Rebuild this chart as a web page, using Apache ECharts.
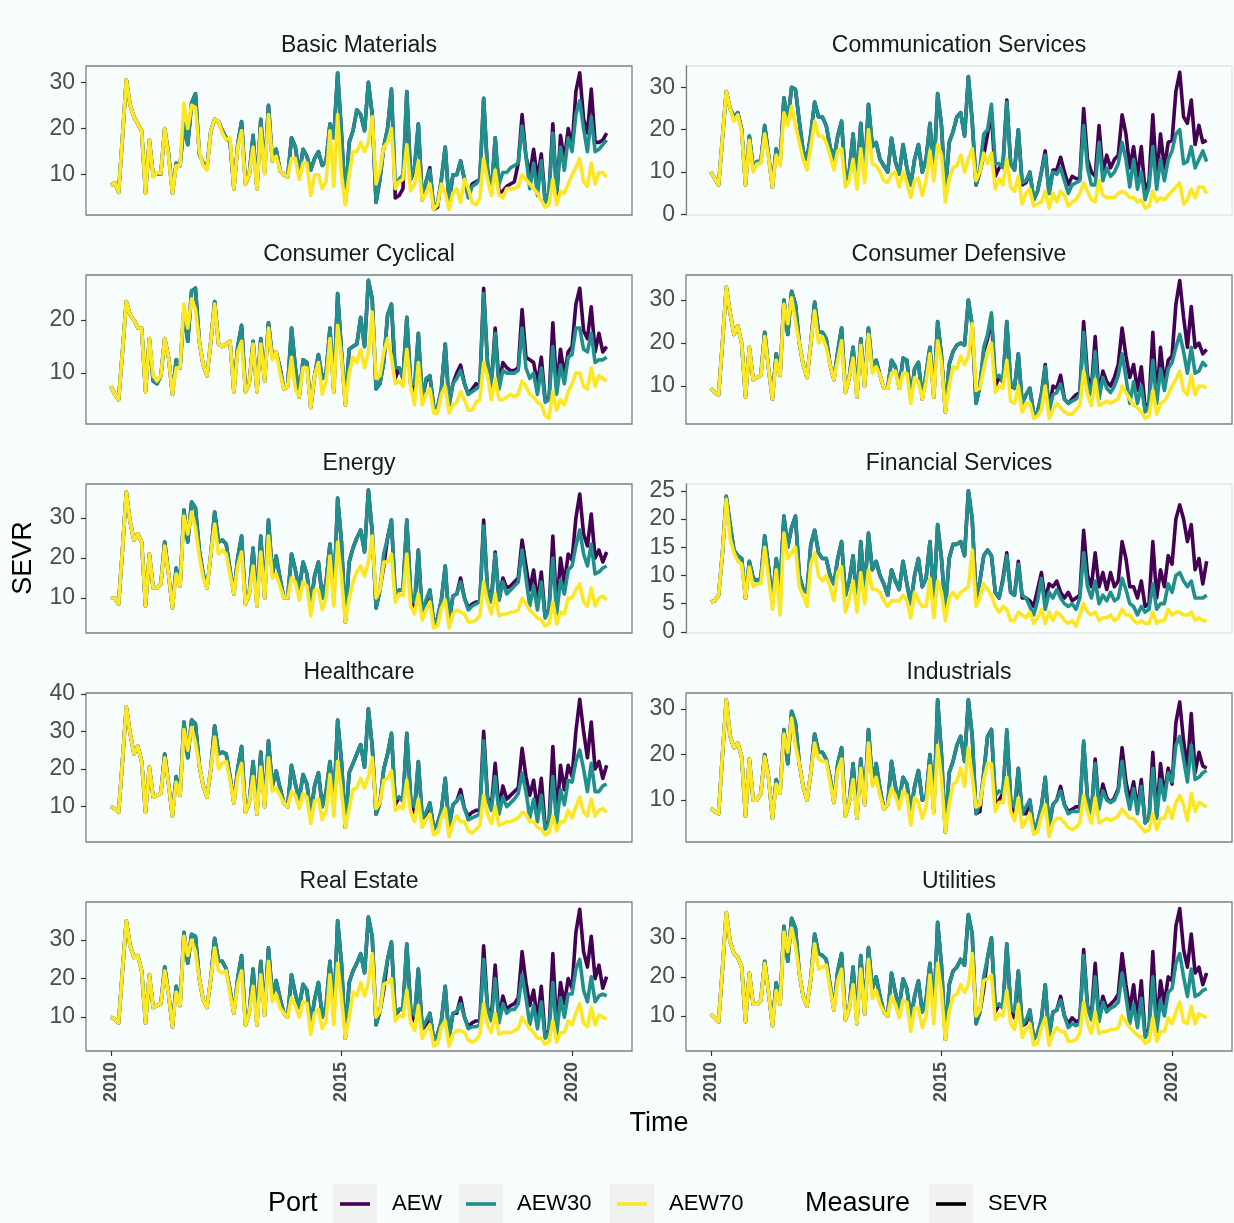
<!DOCTYPE html>
<html>
<head>
<meta charset="utf-8">
<title>SEVR by sector</title>
<script src="https://cdn.jsdelivr.net/npm/echarts@6/dist/echarts.min.js"></script>
<style>
  html, body { margin: 0; padding: 0; background: #F8FDFD; }
  #chart { width: 1234px; height: 1223px; }
</style>
</head>
<body>
<div id="chart"></div>
<script>
// Monthly SEVR per sector, January 2010 onwards, for the three portfolios.
const sectors = ['Basic Materials', 'Communication Services', 'Consumer Cyclical', 'Consumer Defensive',
  'Energy', 'Financial Services', 'Healthcare', 'Industrials', 'Real Estate', 'Utilities'];
const ports = ['AEW', 'AEW30', 'AEW70'];
const xTickYears = [2010, 2015, 2020];

// ---- Basic Materials ----
const basicMaterialsAEW = [
  7.7, 8.3, 6.2, 18, 30.5, 25, 22.5, 21, 19.5, 6, 17.5, 9.8,
  10.3, 10.2, 20, 14.5, 6, 12.5, 12, 21, 16.5, 25.5, 27.5, 14.5,
  12.5, 11.5, 19.5, 22, 21.5, 19.5, 18, 17, 7, 16.5, 21.5, 8,
  10, 18.5, 7, 22, 10.5, 25, 13, 15.5, 11, 10, 9.5, 18,
  16, 10, 15.5, 14, 11, 13.5, 15, 12, 13, 21, 18, 32,
  19, 4, 17, 19.5, 24, 23, 19.5, 30, 23, 4, 9, 16,
  20, 28.5, 5, 5.5, 7, 28, 9, 11, 21, 4.5, 8.5, 11.5,
  2.5, 3, 9, 16, 4, 10, 10, 13, 9, 5.5, 8, 8.5,
  9, 26.5, 11, 6, 18, 6, 6.5, 7.5, 8, 8.5, 12.5, 23,
  14, 10, 15.5, 9, 14.5, 4.5, 6, 21, 5, 18.5, 13, 20,
  16, 28, 32, 22, 19, 28.5, 17, 17, 17.5, 19];
const basicMaterialsAEW30 = [
  7.7, 8.3, 6.2, 18, 30.5, 25, 22.5, 21, 19.5, 6, 17.5, 9.8,
  10.3, 10.2, 20, 14.5, 6, 12.5, 12, 21, 16.5, 25.5, 27.5, 14.5,
  12.5, 11.5, 19.5, 22, 21.5, 19.5, 18, 17, 7, 16.5, 21.5, 8,
  10, 18.5, 7, 22, 10.5, 25, 13, 15.5, 11, 10, 9.5, 18,
  16, 10, 15.5, 14, 11, 13.5, 15, 12, 13, 21, 18, 32,
  19, 4, 17, 19.5, 24, 23, 19.5, 30, 23, 4, 9, 16,
  20, 28.5, 8, 9, 10, 28, 9, 12, 21, 5, 8.5, 11,
  3, 4, 9, 16, 4, 10, 10, 13, 9, 5, 7.5, 8,
  9, 26.5, 11, 6, 18, 8, 10.5, 10.5, 11.5, 12, 12.5, 20.5,
  14, 7, 12.5, 5.5, 13, 4, 6, 19, 6.5, 16, 11, 18,
  15, 23, 26, 20, 15, 22.5, 15, 15.5, 16.5, 17.5];
const basicMaterialsAEW70 = [
  7.7, 8.3, 6.2, 18, 30.5, 25, 22.5, 21, 19.5, 6, 17.5, 9.5,
  10.5, 10.3, 20, 14, 6, 12, 12, 25.5, 20, 25, 24.5, 15,
  12, 11, 19.5, 22, 21.5, 19, 17.5, 18, 7, 16, 19.5, 8,
  10, 16, 7, 20, 10, 23, 13, 14, 11, 10, 9.5, 13.5,
  13.5, 9, 12.5, 12.5, 5.5, 10, 10, 7, 8.5, 19.5, 7.5, 23,
  10, 3.5, 10, 15, 15, 17, 15, 17, 22.5, 8, 11, 16,
  17, 20, 7, 8.5, 9, 16.5, 6.5, 8, 13, 4.5, 6, 8,
  2.5, 3.5, 8, 6, 2.5, 6, 7, 4, 9, 7, 4, 3.5,
  5, 13.5, 9, 5.5, 11, 5.5, 5, 7, 7, 7, 7.5, 10,
  9, 8, 7, 6, 4.5, 3, 3.5, 9, 3.5, 6.5, 6, 8,
  10, 11.5, 13.5, 8.5, 7.5, 12.5, 8, 10.5, 10.5, 9.5];

// ---- Communication Services ----
const communicationAEW = [
  10, 8.5, 7, 18, 29, 25, 23, 24, 20, 7, 18.5, 11,
  12.5, 12.5, 21, 14, 6.5, 15.5, 12, 27.5, 22, 30, 29.5, 22,
  15, 13, 19, 26.5, 23, 23, 21, 16, 13, 18.5, 22, 8,
  10, 19, 8, 21.5, 9, 26, 16, 17, 13, 11.5, 10, 18,
  12.5, 9.5, 16.5, 11, 7, 13, 16.5, 10, 13, 21.5, 10, 28.5,
  21, 5, 17, 19.5, 23, 24, 18.5, 32.5, 22, 7, 10, 14,
  19, 24, 9, 11, 12, 27, 12, 10.5, 20, 7, 7.5, 10,
  3.5, 5.5, 10, 15, 5, 10.5, 10.5, 13.5, 10, 7, 9, 8.5,
  8.5, 25, 13, 10, 9, 21, 10, 14, 11, 13, 14, 23.5,
  19, 11, 16, 9, 16, 5, 8, 23.5, 8.5, 19, 11, 17,
  17.5, 29, 33.5, 23, 21.5, 27, 16.5, 21, 17, 17.5];
const communicationAEW30 = [
  10, 8.5, 7, 18, 29, 25, 23, 24, 20, 7, 18.5, 11,
  12.5, 12.5, 21, 14, 6.5, 15.5, 12, 27.5, 22, 30, 29.5, 22,
  15, 13, 19, 26.5, 23, 23, 21, 16, 13, 18.5, 22, 8,
  10, 19, 8, 21.5, 9, 26, 16, 17, 13, 11.5, 10, 18,
  12.5, 9.5, 16.5, 11, 7, 13, 16.5, 10, 13, 21.5, 10, 28.5,
  21, 5, 17, 19.5, 23, 24, 18.5, 32.5, 22, 7, 11, 19,
  20, 26, 12, 12, 11, 26.5, 12, 10.5, 20, 7.5, 8, 10,
  3.5, 5.5, 10, 14, 5, 10, 9.5, 11, 8, 5, 7, 7.5,
  8, 21, 11, 7, 7, 17, 8, 11, 9, 10, 12, 17,
  13, 6.5, 13, 6, 10, 3.5, 6.5, 16, 6, 13, 8, 13,
  15, 19, 20, 12, 12.5, 16, 11, 13, 15, 12.5];
const communicationAEW70 = [
  10, 8.5, 7, 18, 29, 25, 22, 23.5, 19.5, 7, 17.5, 10,
  12, 12, 19, 13.5, 6.5, 14, 11.5, 24, 21, 25.5, 21, 17,
  13, 10.5, 16, 22, 18.5, 18.5, 17, 14, 10.5, 15, 15.5, 6.5,
  8, 13, 6, 15.5, 7.5, 20, 12, 11.5, 10, 8, 7.5, 9.5,
  10, 6.5, 10, 7.5, 4, 8, 8.5, 4.5, 8, 15, 8, 16.5,
  14, 3, 8.5, 11, 11.5, 14, 10, 13, 15.5, 8, 10, 14.5,
  12, 14.5, 6, 8.5, 7, 13, 6.5, 5.5, 9, 2.5, 5, 6,
  2, 2.5, 3, 5.5, 1.5, 5, 3, 5.5, 4.5, 2, 3, 3.5,
  5, 7.5, 5.5, 3.5, 3, 8, 4.5, 4, 4, 4, 5, 5.5,
  5, 4, 4, 3, 3.5, 1.5, 2, 5.5, 3, 4, 3.5, 4.5,
  5.5, 6.5, 7.5, 2.5, 3.5, 6, 4, 6.5, 6.5, 5];

// ---- Consumer Cyclical ----
const cyclicalAEW = [
  7.5, 6, 5, 14, 23.5, 21, 20, 18.5, 18.5, 6.5, 16.5, 8.5,
  8, 9.5, 16.5, 13, 6, 12.5, 11, 22, 16, 25.5, 26, 16,
  11.5, 9.5, 16, 23.5, 15.5, 15, 15.5, 16, 6.5, 15, 19, 6.5,
  8, 16, 6.5, 16.5, 8.5, 19.5, 13, 14, 11, 7, 7.5, 18.5,
  11, 5.5, 12.5, 12, 3.5, 9.5, 13.5, 9, 10, 18.5, 6.5, 25,
  14, 4, 14.5, 15, 15.5, 20.5, 15, 27.5, 24, 7, 8, 12,
  21, 23, 9, 11, 9, 20.5, 8, 6, 17.5, 5, 8.5, 9.5,
  3.5, 3.5, 7, 15.5, 4, 8, 10, 11.5, 8, 6, 7, 8,
  7.5, 26, 12, 8, 18.5, 8, 12, 11, 10.5, 10.5, 11, 22,
  13, 12.5, 12, 8, 13, 5, 5, 19.5, 7, 14.5, 9.5, 14,
  15, 23, 26, 18, 16.5, 22.5, 14, 17.5, 14, 15];
const cyclicalAEW30 = [
  7.5, 6, 5, 14, 23.5, 21, 20, 18.5, 18.5, 6.5, 16.5, 8.5,
  8, 9.5, 16.5, 13, 6, 12.5, 11, 22, 16, 25.5, 26, 16,
  11.5, 9.5, 16, 23.5, 15.5, 15, 15.5, 16, 6.5, 15, 19, 6.5,
  8, 16, 6.5, 16.5, 8.5, 19.5, 13, 14, 11, 7, 7.5, 18.5,
  11, 5.5, 12.5, 12, 3.5, 9.5, 13.5, 9, 10, 18.5, 6.5, 25,
  14, 4, 14.5, 15, 15.5, 20.5, 15, 27.5, 24, 7, 8, 12,
  21, 23, 11, 11, 9, 20.5, 8, 8, 17.5, 5, 9, 9.5,
  3.5, 3.5, 7, 15.5, 4, 8, 9, 10.5, 8, 6, 6.5, 7,
  7.5, 25, 12, 7.5, 17.5, 7, 10.5, 10, 10, 10, 10.5, 18.5,
  11, 9, 10, 6, 11, 4.5, 5, 15, 6, 11.5, 8, 13,
  13.5, 18.5, 18.5, 14.5, 14, 17.5, 12, 12.5, 12.5, 13];
const cyclicalAEW70 = [
  7.5, 6, 5, 14, 23.5, 21, 20, 18.5, 18.5, 6.5, 16.5, 9.5,
  8.5, 9.5, 16.5, 13, 6, 11, 11, 23, 18.5, 24, 22, 16,
  11.5, 9.5, 16, 23, 15.5, 15, 15.5, 16, 6.5, 14, 16, 6.5,
  8, 15.5, 6.5, 15.5, 8.5, 18.5, 12.5, 14, 10, 7, 7.5, 13,
  7, 5.5, 11, 11, 3.5, 9.5, 12, 6, 8.5, 16.5, 6.5, 19,
  13, 4, 10, 13, 12, 14.5, 11, 14, 21.5, 9, 9.5, 14,
  16.5, 13, 8, 8.5, 7.5, 14.5, 7.5, 4, 12, 4, 6, 7,
  2.5, 2.5, 6, 7.5, 2.5, 4, 4.5, 6.5, 5, 3, 3, 4.5,
  5, 12, 9.5, 5, 9, 5, 5, 5.5, 6, 5.5, 6, 8.5,
  7.5, 6, 5.5, 4.5, 4, 2, 1.5, 6.5, 3, 5, 4, 6.5,
  8, 10, 10, 7.5, 7, 11, 7.5, 9.5, 9, 8.5];

// ---- Consumer Defensive ----
const defensiveAEW = [
  9.5, 8.5, 8, 20, 33, 27, 22, 24, 20, 7.5, 19, 11.5,
  12, 12.5, 22.5, 14, 7, 17.5, 12.5, 30, 22, 32, 29, 20,
  15, 12, 20, 29.5, 22.5, 22.5, 21, 15, 11.5, 18, 23.5, 8.5,
  12, 19, 7.5, 21, 10, 23.5, 14, 16, 12.5, 9.5, 9.5, 16,
  14.5, 9.5, 16.5, 16, 7, 14, 15.5, 7, 13, 19, 7.5, 25,
  17, 4, 15, 18, 19.5, 20, 19.5, 30, 24, 6, 10, 18,
  21, 26, 10, 12, 11, 25, 10, 9.5, 17.5, 6, 8, 9.5,
  3.5, 4, 8, 15, 4, 10, 9.5, 12.5, 7, 6, 7, 8,
  8.5, 25, 12.5, 9, 21.5, 8, 13.5, 11, 10, 12, 15, 23.5,
  17, 12, 15, 9, 14.5, 5, 6, 22.5, 7, 19, 10.5, 16,
  17, 29, 34.5, 26, 19, 28.5, 19, 20, 17.5, 18.5];
const defensiveAEW30 = [
  9.5, 8.5, 8, 20, 33, 27, 22, 24, 20, 7.5, 19, 11.5,
  12, 12.5, 22.5, 14, 7, 17.5, 12.5, 30, 22, 32, 29, 20,
  15, 12, 20, 29.5, 22.5, 22.5, 21, 15, 11.5, 18, 23.5, 8.5,
  12, 19, 7.5, 21, 10, 23.5, 14, 16, 12.5, 9.5, 9.5, 16,
  14.5, 9.5, 16.5, 16, 7, 14, 15.5, 7, 13, 19, 7.5, 25,
  17, 4, 15, 18, 19.5, 20, 19.5, 30, 24, 6, 10, 19,
  22, 27, 12, 12.5, 11, 25, 11, 9.5, 17.5, 6, 8, 9.5,
  3.5, 4, 8, 14.5, 4, 8, 8.5, 10.5, 7, 6, 6.5, 7,
  8, 22.5, 11, 8, 18, 7, 12, 9.5, 8.5, 10, 12.5, 17.5,
  12, 6, 11, 6, 10, 4, 5.5, 16, 6, 14, 9, 14,
  15.5, 19, 22, 18, 13, 19, 13, 13.5, 15.5, 14.5];
const defensiveAEW70 = [
  9.5, 8.5, 8, 20, 33, 27, 22, 24, 20, 7.5, 19, 11.5,
  12, 12.5, 21.5, 14, 7, 16, 12.5, 29, 24.5, 30.5, 25, 20,
  15, 12, 20, 27.5, 20, 21.5, 19, 15, 11.5, 16, 20.5, 8.5,
  12, 16.5, 7.5, 19.5, 10, 22, 13, 14.5, 12.5, 9.5, 9.5, 13,
  13.5, 9.5, 13, 13, 6, 12, 11, 7, 11, 17.5, 7.5, 20.5,
  15.5, 4, 10, 14.5, 14, 17, 15, 17, 24.5, 9, 9.5, 14,
  18, 20, 8.5, 10, 9.5, 16, 6.5, 6, 10, 4, 6, 6,
  2.5, 3, 4.5, 10, 2.5, 4.5, 6, 5, 4, 3.5, 3.5, 4.5,
  5.5, 13.5, 8, 5.5, 11.5, 5.5, 6, 6.5, 6, 6.5, 7, 10,
  8.5, 7, 5.5, 5, 4, 2.5, 3, 9, 3.5, 6, 6.5, 8,
  10, 11.5, 13.5, 9, 8, 12.5, 8, 10, 10, 9.5];

// ---- Energy ----
const energyAEW = [
  10, 10, 8.5, 22, 36.5, 29, 24.5, 26, 24, 8, 21, 12.5,
  12.5, 13.5, 24, 16, 7.5, 17.5, 13, 32, 24, 34, 32.5, 22,
  16, 12.5, 21, 31.5, 24, 24.5, 23.5, 17, 11, 20, 25.5, 8.5,
  11, 22.5, 8, 25.5, 10, 29.5, 16, 20.5, 15, 10, 10, 21,
  17, 12, 19, 16, 8, 15.5, 19, 10, 14, 23.5, 10, 35,
  24, 4, 19, 22.5, 25, 27, 21.5, 37, 26.5, 7.5, 12, 18,
  25, 29.5, 10, 12, 12, 29.5, 11, 7, 22, 6, 8, 12,
  3.5, 5, 9.5, 18, 4, 10.5, 11, 15, 10, 7.5, 8.5, 9,
  9, 29.5, 12, 10, 21.5, 9.5, 15, 12.5, 13, 14, 15, 24.5,
  18, 12, 17, 9, 16.5, 5.5, 7, 25.5, 7, 20, 13.5, 21,
  19.5, 30, 36, 26, 23, 31, 20, 22, 19, 21.5];
const energyAEW30 = [
  10, 10, 8.5, 22, 36.5, 29, 24.5, 26, 24, 8, 21, 12.5,
  12.5, 13.5, 24, 16, 7.5, 17.5, 13, 32, 24, 34, 32.5, 22,
  16, 12.5, 21, 31.5, 24, 24.5, 23.5, 17, 11, 20, 25.5, 8.5,
  11, 22.5, 8, 25.5, 10, 29.5, 16, 20.5, 15, 10, 10, 21,
  17, 12, 19, 16, 8, 15.5, 19, 10, 14, 23.5, 10, 35,
  24, 4, 19, 22.5, 25, 27, 21.5, 37, 26.5, 7.5, 12, 21,
  25, 29.5, 11, 12, 12, 29.5, 11, 9, 22, 6, 9.5, 12,
  3.5, 5, 9.5, 18, 4, 10.5, 11, 14, 10, 7, 8, 8.5,
  9, 28, 12, 9, 21, 9.5, 14, 11, 12, 13, 14, 22,
  15, 8, 13, 7, 14, 5, 7, 20, 6, 14.5, 11, 17,
  18, 23, 27, 21, 18, 23.5, 16, 16.5, 17.5, 18];
const energyAEW70 = [
  10, 10, 8.5, 22, 36.5, 29, 24.5, 26, 24, 8, 21, 12.5,
  12.5, 13.5, 23, 16, 7.5, 16, 13, 30.5, 26, 31.5, 27.5, 20.5,
  15, 12.5, 21, 28.5, 21, 22, 21, 16, 11, 18, 21.5, 8.5,
  11, 18, 8, 21.5, 10, 25.5, 15, 16, 13, 10, 10, 15,
  14, 9.5, 14, 13, 5.5, 12, 12, 7, 10, 20.5, 8, 24,
  15, 4, 10, 14, 16.5, 18, 15.5, 19, 25.5, 10, 12, 19,
  19, 21, 9, 11, 10.5, 21, 8, 6, 11, 4.5, 7, 9,
  2.5, 3, 7.5, 9.5, 2.5, 6, 7, 6.5, 6, 4, 4, 4.5,
  5.5, 14, 9, 6, 11, 5.5, 6, 6, 6.5, 6.5, 7, 10,
  8.5, 7, 6, 5, 4.5, 3, 3.5, 9, 3.5, 6.5, 6, 10,
  10, 12, 13.5, 9, 8, 12.5, 8, 10, 10.5, 9.5];

// ---- Financial Services ----
const financialAEW = [
  5.3, 5.5, 6.5, 14, 24, 19, 14.5, 13.5, 13, 6, 12.5, 9.5,
  9, 9.5, 17, 11.5, 5, 13, 8, 20.5, 15, 18.5, 20.5, 10,
  7.5, 7, 15.5, 18, 14, 13, 13, 10, 8.5, 13, 16, 6.5,
  9, 13.5, 5, 16, 7, 17.5, 11, 12.5, 10, 8.5, 6.5, 11,
  9, 7.5, 12.5, 8.5, 5, 10, 13, 8, 9.5, 16, 5.5, 19,
  13, 4, 13, 15.5, 15.5, 16, 13.5, 25, 20, 6, 9, 13.5,
  14.5, 13.5, 7, 6, 9.5, 14, 7, 6.5, 12.5, 6, 6, 5.5,
  4.5, 7.5, 10.5, 5.5, 8.5, 8, 9, 7, 6, 7, 5.5, 6,
  6.5, 18, 10, 8, 14, 8, 10.5, 7.5, 10.5, 8, 9, 16,
  13, 8, 8, 6, 9, 4.5, 5, 16, 6, 11, 8, 13.5,
  12, 20, 22.5, 20, 16, 19, 11, 13, 8.5, 12.5];
const financialAEW30 = [
  5.3, 5.5, 6.5, 14, 24, 19, 14.5, 13.5, 13, 6, 12.5, 9.5,
  9, 9.5, 17, 11.5, 5, 13, 8, 20.5, 15, 18.5, 20.5, 10,
  7.5, 7, 15.5, 18, 14, 13, 13, 10, 8.5, 13, 16, 6.5,
  9, 13.5, 5, 16, 7, 17.5, 11, 12.5, 10, 8.5, 6.5, 11,
  9, 7.5, 12.5, 8.5, 5, 10, 13, 8, 9.5, 16, 5.5, 19,
  13, 4, 13, 15.5, 15.5, 16, 13.5, 25, 20, 6, 9, 13.5,
  14.5, 13.5, 7, 6, 9, 13.5, 7, 6.5, 12, 6.5, 6, 4.5,
  3, 5.5, 9.5, 4, 7, 6, 7.5, 6, 5, 4.5, 5, 4,
  6, 14, 8, 6, 9, 5, 6.5, 5.5, 7, 5.5, 6, 9.5,
  7.5, 5, 4.5, 3, 4.5, 3.5, 4, 8.5, 4, 5, 5, 8.5,
  7, 10, 10.5, 9, 8, 9, 6, 6, 6, 6.5];
const financialAEW70 = [
  5.3, 5.5, 6.5, 14, 23.5, 16.5, 14, 12.5, 12, 6, 11.5, 8,
  8.5, 8.5, 15, 9.5, 4, 11, 3, 17.5, 13, 14, 15, 8,
  6.5, 4.5, 12, 14, 10, 9, 10, 8, 5.5, 10.5, 11.5, 3.5,
  6, 9, 3.5, 10.5, 5, 11, 7.5, 7.5, 7, 5.5, 4.5, 5.5,
  5.5, 5.5, 6.5, 5.5, 2.5, 7, 5.5, 4.5, 4.5, 9.5, 2.5, 9,
  7, 2, 6, 7, 6, 7, 7.5, 8, 14.5, 4.5, 6, 8.5,
  7.5, 6.5, 4.5, 3.5, 4.5, 4, 2, 2, 3.5, 3, 2.5, 3.5,
  1.5, 2.5, 4, 1.5, 3.5, 2, 3.5, 3, 2, 1.5, 2, 1,
  3, 5, 3.5, 3, 3.5, 2, 2.5, 2.5, 3, 2, 2.5, 4,
  3, 3, 2, 1.5, 2, 1.5, 1.5, 3.5, 1.5, 2, 2, 4,
  3, 3.5, 3.5, 3, 3, 3.5, 2, 2.5, 2, 2];

// ---- Healthcare ----
const healthcareAEW = [
  10, 9.5, 8.5, 22, 36.5, 29.5, 24, 26, 22, 8.5, 20.5, 12.5,
  13, 13.5, 24, 16, 7.5, 18, 13, 32.5, 23, 33, 32, 21,
  15.5, 12.5, 20, 31.5, 24, 24.5, 24, 18, 11, 20, 26, 8.5,
  11, 22, 8, 24.5, 10, 27.5, 15.5, 19.5, 15, 11, 10, 21,
  16, 12, 18.5, 16, 8, 15.5, 19, 10, 14, 22, 10, 33,
  22, 4.5, 19, 21.5, 24, 26.5, 20.5, 36, 26, 8, 11, 20,
  24, 29.5, 10.5, 12.5, 11.5, 29.5, 12, 8.5, 22, 7, 7.5, 11,
  4, 5.5, 9, 17.5, 4.5, 10.5, 11.5, 14.5, 9.5, 7.5, 8.5, 9,
  9, 30, 12.5, 10, 21.5, 9.5, 15.5, 12, 13, 14, 15, 25.5,
  18, 13, 17, 9, 17.5, 5, 6, 26, 7, 21, 14.5, 21,
  18, 30, 38.5, 30, 23, 32.5, 20, 22, 17.5, 21];
const healthcareAEW30 = [
  10, 9.5, 8.5, 22, 36.5, 29.5, 24, 26, 22, 8.5, 20.5, 12.5,
  13, 13.5, 24, 16, 7.5, 18, 13, 32.5, 23, 33, 32, 21,
  15.5, 12.5, 20, 31.5, 24, 24.5, 24, 18, 11, 20, 26, 8.5,
  11, 22, 8, 24.5, 10, 27.5, 15.5, 19.5, 15, 11, 10, 21,
  16, 12, 18.5, 16, 8, 15.5, 19, 10, 14, 22, 10, 33,
  22, 4.5, 19, 21.5, 24, 26.5, 20.5, 36, 26, 8, 11, 20,
  24, 29.5, 12, 12.5, 11.5, 29.5, 12, 10, 22, 7, 8.5, 11,
  4, 5.5, 9, 17.5, 4.5, 10.5, 11.5, 13, 9.5, 6.5, 7, 7.5,
  8, 27.5, 12, 9, 18, 8, 12.5, 10, 11, 12, 13.5, 19,
  14, 7, 12, 6, 13, 4, 5.5, 18, 5.5, 14.5, 10.5, 17,
  16.5, 22, 25, 20, 14, 21.5, 14, 14, 15.5, 16];
const healthcareAEW70 = [
  10, 9.5, 8.5, 22, 36.5, 29.5, 24, 26, 22, 8.5, 20.5, 12.5,
  13, 13.5, 23, 16, 7.5, 16.5, 13, 30.5, 25, 31, 27, 21,
  15.5, 12.5, 20, 28.5, 20, 21.5, 22, 17, 11, 18, 21.5, 8.5,
  11, 18, 8, 20.5, 10, 23, 14, 15, 13, 11, 10, 14,
  13, 9.5, 13.5, 12.5, 5.5, 11.5, 12, 6.5, 9, 18.5, 7.5, 22,
  14, 4.5, 9.5, 14.5, 15, 17.5, 15, 18, 23, 9.5, 11, 17,
  17.5, 19.5, 9, 10, 9.5, 17, 8.5, 6, 12, 4.5, 6.5, 8,
  2.5, 3, 7, 9.5, 2, 5.5, 7.5, 6, 6, 3.5, 3, 4,
  5, 13, 8, 5.5, 10, 5, 5.5, 6, 6, 6.5, 7, 8.5,
  8, 6, 6, 4.5, 4, 2.5, 3, 7.5, 3.5, 6, 6, 9,
  7, 10, 12.5, 8.5, 7.5, 12, 7.5, 9, 9.5, 8.5];

// ---- Industrials ----
const industrialsAEW = [
  8.2, 7.5, 7, 20, 32, 24, 21.5, 22.5, 19.5, 6.5, 19, 10,
  10, 11.5, 20, 15, 6, 14.5, 11.5, 25.5, 18, 29.5, 27, 18,
  13, 10, 16, 24.5, 20.5, 20.5, 19, 15, 9.5, 18, 21.5, 6.5,
  9.5, 18, 6, 19, 9, 25.5, 14, 18, 12.5, 8, 9, 18.5,
  13, 10, 15, 13.5, 7.5, 13, 16.5, 10, 10.5, 20, 7.5, 32,
  20, 3, 16, 18.5, 22, 24, 18.5, 32, 24, 7, 7.5, 16,
  24, 25.5, 9, 10, 11.5, 25, 10, 6.5, 17, 7, 7, 10,
  3.5, 5, 8.5, 15, 4, 9, 10, 13, 9, 7.5, 8, 8.5,
  8.5, 22.5, 10.5, 7, 19, 8.5, 13.5, 10.5, 9.5, 10.5, 12.5, 21.5,
  14, 10, 14, 8, 14.5, 5, 6, 20.5, 6.5, 18, 11, 17,
  13.5, 27, 31.5, 23, 17, 29, 16, 20.5, 17.5, 17];
const industrialsAEW30 = [
  8.2, 7.5, 7, 20, 32, 24, 21.5, 22.5, 19.5, 6.5, 19, 10,
  10, 11.5, 20, 15, 6, 14.5, 11.5, 25.5, 18, 29.5, 27, 18,
  13, 10, 16, 24.5, 20.5, 20.5, 19, 15, 9.5, 18, 21.5, 6.5,
  9.5, 18, 6, 19, 9, 25.5, 14, 18, 12.5, 8, 9, 18.5,
  13, 10, 15, 13.5, 7.5, 13, 16.5, 10, 10.5, 20, 7.5, 32,
  20, 3, 16, 18.5, 22, 24, 18.5, 32, 24, 7, 9, 16,
  24, 25.5, 11, 12, 11.5, 25.5, 10, 8.5, 17, 7, 8.5, 10,
  3.5, 5, 8.5, 15, 4, 9, 10, 12, 9, 7, 7.5, 7.5,
  7.5, 23, 10, 7, 18, 8, 12, 10, 9.5, 10, 12, 18.5,
  12, 8, 12.5, 7, 13, 5, 6, 17, 6, 14.5, 10, 16,
  14, 22, 24, 19, 14, 22, 14.5, 15, 16, 16.5];
const industrialsAEW70 = [
  8.2, 7.5, 7, 20, 32, 24, 21.5, 22.5, 19.5, 6.5, 19, 10,
  10, 11.5, 19.5, 15, 6, 13.5, 11.5, 24.5, 20.5, 28, 22, 18,
  13, 10, 16, 22.5, 19, 18.5, 18.5, 14, 9.5, 16.5, 19, 6.5,
  9.5, 14.5, 6, 17, 9, 22.5, 13, 15, 11, 8, 9, 12.5,
  11, 8, 12, 11, 4.5, 10.5, 9.5, 6, 8.5, 17.5, 7, 22,
  14.5, 3, 9, 13.5, 14, 17, 13, 21.5, 15, 8.5, 9, 14.5,
  18, 18, 7.5, 9.5, 9.5, 15, 7.5, 5.5, 10.5, 4, 5.5, 7,
  2.5, 3, 6.5, 9, 2, 5, 6, 6, 5, 4, 3.5, 4,
  5, 11, 7.5, 5, 10.5, 5, 5.5, 6, 5.5, 6, 6.5, 8,
  7, 6, 6, 5, 4, 3, 3.5, 7, 3.5, 6, 6, 8.5,
  6, 9.5, 11, 9, 5.5, 11.5, 7.5, 9.5, 9, 8.5];

// ---- Real Estate ----
const realEstateAEW = [
  10, 9.5, 8.5, 22, 35, 28.5, 25.5, 26, 22, 8.5, 21, 12.5,
  13, 13.5, 23, 16, 7.5, 18, 13, 32, 24, 31.5, 31, 20,
  14.5, 12.5, 20, 30.5, 24.5, 24.5, 22.5, 17, 11, 20, 26, 8,
  11, 22.5, 8, 24.5, 10.5, 28, 15.5, 19.5, 15, 11, 10, 21,
  16, 12.5, 18.5, 17, 8, 14.5, 19, 10, 13, 24.5, 10, 35,
  24, 4.5, 19, 22, 24, 26.5, 21.5, 36, 31, 8, 11.5, 17,
  25, 29.5, 10, 12, 12, 29, 12, 9, 22.5, 7, 7.5, 11,
  4, 5.5, 9, 18, 4.5, 11, 11, 15, 10, 7.5, 8.5, 9,
  9, 28.5, 12.5, 10, 23.5, 9.5, 15.5, 12, 13, 13.5, 15, 27,
  19, 13, 17, 9, 18, 5, 6.5, 26.5, 7, 19, 13.5, 20,
  17.5, 32, 38, 27, 23, 31, 20, 23.5, 17.5, 20.5];
const realEstateAEW30 = [
  10, 9.5, 8.5, 22, 35, 28.5, 25.5, 26, 22, 8.5, 21, 12.5,
  13, 13.5, 23, 16, 7.5, 18, 13, 32, 24, 31.5, 31, 20,
  14.5, 12.5, 20, 30.5, 24.5, 24.5, 22.5, 17, 11, 20, 26, 8,
  11, 22.5, 8, 24.5, 10.5, 28, 15.5, 19.5, 15, 11, 10, 21,
  16, 12.5, 18.5, 17, 8, 14.5, 19, 10, 13, 24.5, 10, 35,
  24, 4.5, 19, 22, 24, 26.5, 21.5, 36, 31, 8, 11.5, 19.5,
  25, 29.5, 11, 12, 12, 29, 12, 10.5, 22.5, 7, 9, 11,
  4, 5.5, 9, 18, 4.5, 11, 11.5, 13.5, 10, 7, 7.5, 7.5,
  8, 25, 12, 9, 20, 8.5, 13.5, 11, 12, 12, 13.5, 21,
  15, 8, 13, 7, 14, 4.5, 6, 19, 5.5, 15, 10, 16,
  16, 22.5, 25, 17, 14, 20.5, 14, 15.5, 16, 15.5];
const realEstateAEW70 = [
  10, 9.5, 8.5, 22, 35, 28.5, 25.5, 26, 22, 8.5, 21, 12.5,
  13, 13.5, 22, 16, 7.5, 16.5, 13, 31, 26, 30, 27, 20,
  14.5, 12.5, 20, 28, 22, 21.5, 22, 16, 11, 18.5, 22, 8,
  11, 18, 8, 21, 10.5, 24.5, 14, 16, 12.5, 11, 10, 15,
  13, 10, 14, 13.5, 5.5, 11, 12, 7, 9, 21, 8, 24,
  15, 4.5, 10, 16.5, 15.5, 19, 15.5, 19, 26.5, 10, 11.5, 18.5,
  19, 20, 9, 10.5, 10, 17, 8.5, 6.5, 13, 4.5, 6.5, 8,
  2.5, 3, 7.5, 9, 2.5, 5.5, 6.5, 6.5, 6, 4, 3.5, 4,
  5.5, 13.5, 8, 6, 11, 5.5, 6, 6, 6, 6.5, 7, 10,
  8.5, 7, 6, 4.5, 4.5, 3, 3.5, 9, 3.5, 6, 6, 9,
  8, 11, 13.5, 8.5, 7.5, 12.5, 8, 10.5, 10, 9.5];

// ---- Utilities ----
const utilitiesAEW = [
  10.5, 9.5, 8.5, 22, 36.5, 29, 26, 25, 22.5, 8.5, 21, 13,
  13, 14, 24, 16, 7.5, 18.5, 13, 33, 24, 35, 32.5, 21,
  15, 12.5, 19.5, 31, 26, 25.5, 24.5, 18, 11.5, 21.5, 26, 9,
  12, 22.5, 8, 25.5, 10.5, 27.5, 17, 20, 15, 11, 10, 21,
  16, 12, 19.5, 17, 9, 15, 19, 11, 14, 23.5, 10, 34,
  23, 4, 18, 21.5, 22.5, 24.5, 23, 36, 31, 8, 11, 17,
  25, 30, 11, 13, 12, 28.5, 12, 9.5, 21.5, 7.5, 8, 11.5,
  4, 5.5, 9, 18, 4.5, 11, 11.5, 15, 10, 8, 9.5, 8.5,
  9, 27, 12.5, 10, 23.5, 9.5, 15, 12, 13, 14, 15.5, 26,
  18, 11.5, 18, 9, 19, 5, 6.5, 26.5, 7.5, 19, 13, 20,
  19, 33, 37.5, 27, 22.5, 31, 21, 22.5, 18, 21];
const utilitiesAEW30 = [
  10.5, 9.5, 8.5, 22, 36.5, 29, 26, 25, 22.5, 8.5, 21, 13,
  13, 14, 24, 16, 7.5, 18.5, 13, 33, 24, 35, 32.5, 21,
  15, 12.5, 19.5, 31, 26, 25.5, 24.5, 18, 11.5, 21.5, 26, 9,
  12, 22.5, 8, 25.5, 10.5, 27.5, 17, 20, 15, 11, 10, 21,
  16, 12, 19.5, 17, 9, 15, 19, 11, 14, 23.5, 10, 34,
  23, 4, 18, 21.5, 22.5, 24.5, 23, 36, 31, 8, 11, 20,
  25, 30, 12.5, 13, 12, 28.5, 12, 11, 21.5, 7.5, 9, 11.5,
  4, 5.5, 9, 18, 4.5, 11, 11.5, 14, 10, 7, 8, 7.5,
  8, 25.5, 12, 9, 20, 8.5, 13.5, 11, 12, 12.5, 13.5, 21,
  15, 8, 13, 7, 14.5, 4.5, 6, 20, 6, 14, 10, 16,
  17, 23.5, 26, 20, 15, 22, 15, 15.5, 16.5, 17];
const utilitiesAEW70 = [
  10.5, 9.5, 8.5, 22, 36.5, 29, 26, 25, 22.5, 8.5, 21, 13,
  13, 14, 23.5, 16, 7.5, 16.5, 13, 31.5, 26.5, 32.5, 28, 21,
  15, 12.5, 19.5, 28.5, 22, 22.5, 23, 17, 11.5, 19, 22, 9,
  12, 18, 8, 22, 10.5, 24.5, 14.5, 16.5, 13, 11, 10, 15,
  13, 9.5, 14, 13.5, 6, 12, 12, 7, 10, 20.5, 8, 23.5,
  16, 4, 11, 15, 15.5, 18, 16, 18, 26, 10, 11.5, 19,
  19.5, 20.5, 9, 10.5, 10, 16.5, 8, 6.5, 13, 4.5, 6.5, 8,
  2.5, 3, 7, 9.5, 2.5, 5.5, 7, 6, 6, 3.5, 3.5, 4,
  5.5, 13.5, 8, 5.5, 11, 5.5, 6, 6, 6.5, 6.5, 7, 10,
  8.5, 7, 6, 5, 4.5, 3, 3.5, 9.5, 3.5, 6, 6, 9.5,
  8, 11, 13.5, 8.5, 8, 12.5, 8, 10.5, 10, 9.5];

// Per-panel y scale (free scales) and tick values.
const yRanges = [[1.3, 33.5], [-0.1, 35.0], [0.4, 28.5], [1.2, 35.8], [1.25, 38.5],
                 [-0.2, 26.2], [0.6, 40.2], [0.8, 33.5], [1.2, 39.9], [1.0, 39.2]];
const yTicks = [[10, 20, 30], [0, 10, 20, 30], [10, 20], [10, 20, 30], [10, 20, 30],
                [0, 5, 10, 15, 20, 25], [10, 20, 30, 40], [10, 20, 30], [10, 20, 30], [10, 20, 30]];

const seriesBySector = [
  [basicMaterialsAEW, basicMaterialsAEW30, basicMaterialsAEW70],
  [communicationAEW, communicationAEW30, communicationAEW70],
  [cyclicalAEW, cyclicalAEW30, cyclicalAEW70],
  [defensiveAEW, defensiveAEW30, defensiveAEW70],
  [energyAEW, energyAEW30, energyAEW70],
  [financialAEW, financialAEW30, financialAEW70],
  [healthcareAEW, healthcareAEW30, healthcareAEW70],
  [industrialsAEW, industrialsAEW30, industrialsAEW70],
  [realEstateAEW, realEstateAEW30, realEstateAEW70],
  [utilitiesAEW, utilitiesAEW30, utilitiesAEW70]
];

const FONT = "'Liberation Sans', Arial, Helvetica, sans-serif";
const portColors = { AEW: '#440154', AEW30: '#21908C', AEW70: '#FDE725' };
const monthTime = i => 2010 + i / 12;

const grids = [], xAxes = [], yAxes = [], series = [], graphics = [];

sectors.forEach((name, k) => {
  const col = k % 2, row = Math.floor(k / 2);
  const left = 86 + 600 * col, top = 66 + 209 * row;
  const width = 546, height = 149;
  const faint = (name === 'Communication Services' || name === 'Financial Services');
  const bottomRow = row === 4;

  grids.push({
    left, top, width, height, show: true,
    borderColor: faint ? '#E2E7E7' : '#7F7F7F', borderWidth: 1.3,
    backgroundColor: 'transparent', containLabel: false
  });

  xAxes.push({
    type: 'value', gridIndex: k, min: 2009.46, max: 2021.3,
    axisLine: { show: false },
    splitLine: { show: false },
    axisTick: { show: bottomRow, customValues: xTickYears, length: 5,
      lineStyle: { color: '#333333', width: 1.2 } },
    axisLabel: { show: bottomRow, customValues: xTickYears, rotate: 90, margin: 11,
      fontSize: 18, fontWeight: 'bold', color: '#4D4D4D', fontFamily: FONT,
      formatter: v => String(Math.round(v)) }
  });

  yAxes.push({
    type: 'value', gridIndex: k, min: yRanges[k][0], max: yRanges[k][1],
    axisLine: { show: faint, onZero: false, lineStyle: { color: '#7F7F7F', width: 1.3 } },
    splitLine: { show: false },
    axisTick: { show: true, customValues: yTicks[k], length: 5,
      lineStyle: { color: '#333333', width: 1.2 } },
    axisLabel: { customValues: yTicks[k], margin: 11, fontSize: 23,
      color: '#4D4D4D', fontFamily: FONT }
  });

  seriesBySector[k].forEach((values, p) => {
    series.push({
      type: 'line', name: ports[p], xAxisIndex: k, yAxisIndex: k,
      data: values.map((v, i) => [monthTime(i), v]),
      symbol: 'none', showSymbol: false, silent: true, z: 2 + p,
      lineStyle: { color: portColors[ports[p]], width: 3.6, join: 'round', cap: 'butt' },
      itemStyle: { color: portColors[ports[p]] }
    });
  });

  // facet strip label
  graphics.push({
    type: 'text', x: left + width / 2, y: top - 20,
    style: { text: name, fontSize: 23, fontFamily: FONT, fill: '#1A1A1A',
      align: 'center', verticalAlign: 'middle', textAlign: 'center', textVerticalAlign: 'middle' }
  });
});

// axis titles
graphics.push({
  type: 'text', x: 24, y: 558, rotation: Math.PI / 2,
  style: { text: 'SEVR', fontSize: 27, fontFamily: FONT, fill: '#000000',
    align: 'center', verticalAlign: 'middle', textAlign: 'center', textVerticalAlign: 'middle' }
});
graphics.push({
  type: 'text', x: 659, y: 1124,
  style: { text: 'Time', fontSize: 27, fontFamily: FONT, fill: '#000000',
    align: 'center', verticalAlign: 'middle', textAlign: 'center', textVerticalAlign: 'middle' }
});

// legend: Port (colour) and Measure (line type)
const legendY = 1204;
const legendText = (text, x, size) => ({
  type: 'text', x, y: legendY,
  style: { text, fontSize: size, fontFamily: FONT, fill: '#000000',
    align: 'left', verticalAlign: 'middle', textAlign: 'left', textVerticalAlign: 'middle' }
});
const legendKey = (x, color) => [
  { type: 'rect', shape: { x, y: 1184, width: 44, height: 40 }, style: { fill: '#F0F1F1' } },
  { type: 'line', shape: { x1: x + 7, y1: legendY, x2: x + 37, y2: legendY },
    style: { stroke: color, lineWidth: 3.6 } }
];
graphics.push(legendText('Port', 268, 27));
graphics.push(...legendKey(333, portColors.AEW), legendText('AEW', 392, 22));
graphics.push(...legendKey(459, portColors.AEW30), legendText('AEW30', 517, 22));
graphics.push(...legendKey(610, portColors.AEW70), legendText('AEW70', 669, 22));
graphics.push(legendText('Measure', 805, 27));
graphics.push(...legendKey(929, '#000000'), legendText('SEVR', 988, 22));

const chart = echarts.init(document.getElementById('chart'), null, { renderer: 'canvas' });
chart.setOption({
  animation: false,
  backgroundColor: '#F8FDFD',
  grid: grids,
  xAxis: xAxes,
  yAxis: yAxes,
  series: series,
  graphic: graphics
});
</script>
</body>
</html>
